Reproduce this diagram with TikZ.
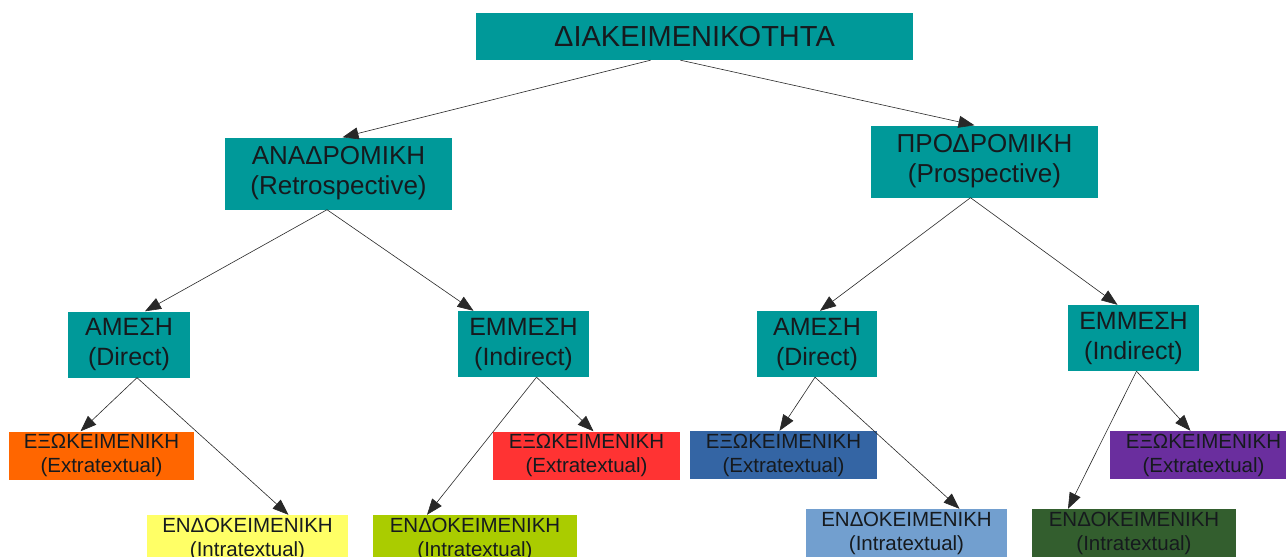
\documentclass[tikz,border=0pt]{standalone}
\usepackage{fontspec}
\setmainfont{Liberation Sans}
\usetikzlibrary{arrows.meta}

\definecolor{tealbox}{RGB}{0,153,153}
\definecolor{inkdark}{RGB}{22,26,30}
\definecolor{linegray}{RGB}{40,40,40}
\definecolor{orangebox}{RGB}{255,102,0}
\definecolor{yellowbox}{RGB}{255,255,102}
\definecolor{redbox}{RGB}{255,51,51}
\definecolor{limebox}{RGB}{170,204,0}
\definecolor{bluebox}{RGB}{52,101,164}
\definecolor{skybox}{RGB}{114,159,207}
\definecolor{greenbox}{RGB}{51,94,46}
\definecolor{purplebox}{RGB}{106,46,158}

\tikzset{
  box/.style={rectangle, inner sep=0pt, align=center, text=inkdark},
  rootbox/.style={box, fill=tealbox, minimum width=437pt, minimum height=47pt,
    font=\fontsize{29}{34}\selectfont},
  kindbox/.style={box, fill=tealbox, minimum width=227pt, minimum height=72pt,
    font=\fontsize{26}{30}\selectfont},
  modebox/.style={box, fill=tealbox, minimum height=66pt,
    font=\fontsize{25}{30}\selectfont},
  leafbox/.style={box, fill=#1, minimum height=48pt,
    font=\fontsize{20.5}{24}\selectfont},
  arr/.style={draw=linegray, line width=0.6pt, -{Triangle[length=16pt,width=12pt]}}
}

\begin{document}
\begin{tikzpicture}[x=1pt,y=-1pt]
  \useasboundingbox (0,0) rectangle (1286,557);
  \clip (0,0) rectangle (1286,557);

  \node[rootbox] (root) at (694.5,36.5) {ΔΙΑΚΕΙΜΕΝΙΚΟΤΗΤΑ};

  \node[kindbox] (retro) at (338.5,173.5) {ΑΝΑΔΡΟΜΙΚΗ\\(Retrospective)};
  \node[kindbox] (prosp) at (984.5,161.5) {ΠΡΟΔΡΟΜΙΚΗ\\(Prospective)};

  \node[modebox, minimum width=122pt] (dirL) at (129,344.5) {ΑΜΕΣΗ\\(Direct)};
  \node[modebox, minimum width=131pt] (indL) at (523.5,344) {ΕΜΜΕΣΗ\\(Indirect)};
  \node[modebox, minimum width=120pt] (dirR) at (817,344) {ΑΜΕΣΗ\\(Direct)};
  \node[modebox, minimum width=131pt] (indR) at (1133.5,338) {ΕΜΜΕΣΗ\\(Indirect)};

  \node[leafbox=orangebox, minimum width=185pt] (extO) at (101.5,455.5) {ΕΞΩΚΕΙΜΕΝΙΚΗ\\(Extratextual)};
  \node[leafbox=yellowbox, minimum width=201pt] (intY) at (247.5,539) {ΕΝΔΟΚΕΙΜΕΝΙΚΗ\\(Intratextual)};
  \node[leafbox=redbox, minimum width=187pt] (extR) at (586.5,455.5) {ΕΞΩΚΕΙΜΕΝΙΚΗ\\(Extratextual)};
  \node[leafbox=limebox, minimum width=204pt] (intG) at (475,539) {ΕΝΔΟΚΕΙΜΕΝΙΚΗ\\(Intratextual)};
  \node[leafbox=bluebox, minimum width=187pt] (extB) at (783.5,455) {ΕΞΩΚΕΙΜΕΝΙΚΗ\\(Extratextual)};
  \node[leafbox=skybox, minimum width=201pt] (intS) at (906.5,533) {ΕΝΔΟΚΕΙΜΕΝΙΚΗ\\(Intratextual)};
  \node[leafbox=greenbox, minimum width=204pt] (intD) at (1134,533) {ΕΝΔΟΚΕΙΜΕΝΙΚΗ\\(Intratextual)};
  \node[leafbox=purplebox, minimum width=187pt] (extP) at (1203.5,455) {ΕΞΩΚΕΙΜΕΝΙΚΗ\\(Extratextual)};

  % first level
  \draw[arr] ([xshift=-44pt]root.south) -- ([xshift=4pt]retro.north);
  \draw[arr] ([xshift=-14pt]root.south) -- ([xshift=-10pt]prosp.north);

  % second level
  \draw[arr] ([xshift=-11.5pt]retro.south) -- ([xshift=16pt]dirL.north);
  \draw[arr] ([xshift=-11.5pt]retro.south) -- ([xshift=-50pt]indL.north);
  \draw[arr] ([xshift=-14pt]prosp.south) -- ([xshift=3pt]dirR.north);
  \draw[arr] ([xshift=-14pt]prosp.south) -- ([xshift=-16pt]indR.north);

  % leaves
  \draw[arr] ([xshift=8pt]dirL.south) -- ([xshift=-21pt]extO.north);
  \draw[arr] ([xshift=8pt]dirL.south) -- ([xshift=41pt]intY.north);
  \draw[arr] ([xshift=13pt]indL.south) -- ([xshift=7pt]extR.north);
  \draw[arr] ([xshift=13pt]indL.south) -- ([xshift=-48pt]intG.north);
  \draw[arr] ([xshift=-2pt]dirR.south) -- ([xshift=-4pt]extB.north);
  \draw[arr] ([xshift=-2pt]dirR.south) -- ([xshift=53pt]intS.north);
  \draw[arr] ([xshift=3pt]indR.south) -- ([xshift=-66pt]intD.north);
  \draw[arr] ([xshift=3pt]indR.south) -- ([xshift=-13pt]extP.north);
\end{tikzpicture}
\end{document}
